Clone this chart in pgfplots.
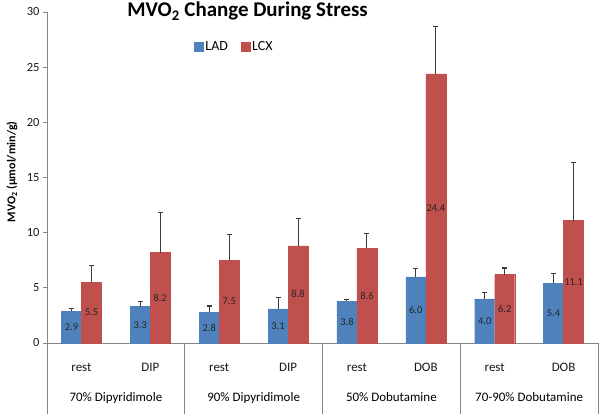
\documentclass[border=0pt]{standalone}
\usepackage{fontspec}
\setmainfont{Carlito}
\usepackage{pgfplots}
\pgfplotsset{compat=1.18}
\definecolor{ladblue}{RGB}{79,129,189}
\definecolor{lcxred}{RGB}{192,80,77}
\definecolor{axgray}{RGB}{134,134,134}
\definecolor{errgray}{RGB}{60,60,60}

\begin{document}
\begin{tikzpicture}
\path[use as bounding box] (-47bp,-71bp) rectangle (553bp,343bp);
\begin{axis}[
  scale only axis, width=551bp, height=331bp,
  at={(0,0)}, anchor=south west, clip=false,
  ybar=0pt, bar width=20bp,
  xmin=-0.5, xmax=7.5, ymin=0, ymax=30,
  axis x line*=bottom, axis y line*=left,
  axis line style={-, draw=axgray, line width=0.9bp},
  xtick={0,...,7},
  xticklabels={rest,DIP,rest,DIP,rest,DOB,rest,DOB},
  xtick style={draw=none},
  ytick={0,5,...,30},
  ytick style={draw=axgray, line width=0.9bp},
  tick align=outside, major tick length=4bp,
  /pgf/number format/assume math mode=true,
  tick label style={font=\fontsize{12.5}{14}\selectfont, color=black!90},
  xticklabel style={anchor=base, yshift=-24bp, font=\fontsize{13}{15}\selectfont},
  ylabel={\textbf{MVO\textsubscript{2} (µmol/min/g)}},
  ylabel style={at={(axis description cs:-0.0635,0.517)}, anchor=center,
                font=\fontsize{12}{14}\selectfont},
  point meta=rawy,
  visualization depends on={rawy \as \rawy},
  nodes near coords={\pgfmathprintnumber[fixed,fixed zerofill,precision=1]{\pgfplotspointmeta}},
  every node near coord/.append style={font=\fontsize{10.5}{12}\selectfont,
      color=black!85, anchor=center, yshift={-\rawy*5.5167bp}},
  error bars/y dir=plus, error bars/y explicit,
  error bars/error bar style={errgray, line width=1.1bp},
  error bars/error mark options={rotate=90, errgray, mark size=2.5bp, line width=1.1bp},
  legend style={at={(0.340,0.894)}, anchor=center, draw=none, fill=none,
                legend columns=2, font=\fontsize{14}{16}\selectfont,
                /tikz/every even column/.append style={column sep=11bp}},
  legend image code/.code={\fill[#1] (0bp,-4.5bp) rectangle (9bp,4.5bp);},
]
\addplot[fill=ladblue, draw=ladblue, line width=0.3bp] coordinates {
  (0,2.9) +- (0,0.25)
  (1,3.3) +- (0,0.45)
  (2,2.8) +- (0,0.55)
  (3,3.1) +- (0,1.05)
  (4,3.8) +- (0,0.15)
  (5,6.0) +- (0,0.75)
  (6,4.0) +- (0,0.6)
  (7,5.4) +- (0,0.9)
};
\addlegendentry{LAD}
\addplot[fill=lcxred, draw=lcxred, line width=0.3bp] coordinates {
  (0,5.5) +- (0,1.5)
  (1,8.2) +- (0,3.6)
  (2,7.5) +- (0,2.35)
  (3,8.8) +- (0,2.5)
  (4,8.6) +- (0,1.3)
  (5,24.4) +- (0,4.25)
  (6,6.2) +- (0,0.6)
  (7,11.1) +- (0,5.25)
};
\addlegendentry{LCX}

% group separators of the two-level category axis
\draw[axgray, line width=0.9bp] (axis cs:-0.5,0) -- ++(0pt,-71bp);
\draw[axgray, line width=0.9bp] (axis cs:1.5,0) -- ++(0pt,-71bp);
\draw[axgray, line width=0.9bp] (axis cs:3.5,0) -- ++(0pt,-71bp);
\draw[axgray, line width=0.9bp] (axis cs:5.5,0) -- ++(0pt,-71bp);
\draw[axgray, line width=0.9bp] (axis cs:7.5,0) -- ++(0pt,-71bp);
\node[anchor=base, font=\fontsize{13}{15}\selectfont, yshift=-58.5bp]
  at (axis cs:0.5,0) {70\% Dipyridimole};
\node[anchor=base, font=\fontsize{13}{15}\selectfont, yshift=-58.5bp]
  at (axis cs:2.5,0) {90\% Dipyridimole};
\node[anchor=base, font=\fontsize{13}{15}\selectfont, yshift=-58.5bp]
  at (axis cs:4.5,0) {50\% Dobutamine};
\node[anchor=base, font=\fontsize{13}{15}\selectfont, yshift=-58.5bp]
  at (axis cs:6.5,0) {70-90\% Dobutamine};
\node[anchor=base, font=\bfseries\fontsize{21}{25}\selectfont, yshift=-5bp]
  at (axis description cs:0.364,1) {MVO\textsubscript{2} Change During Stress};
\end{axis}
\end{tikzpicture}
\end{document}
